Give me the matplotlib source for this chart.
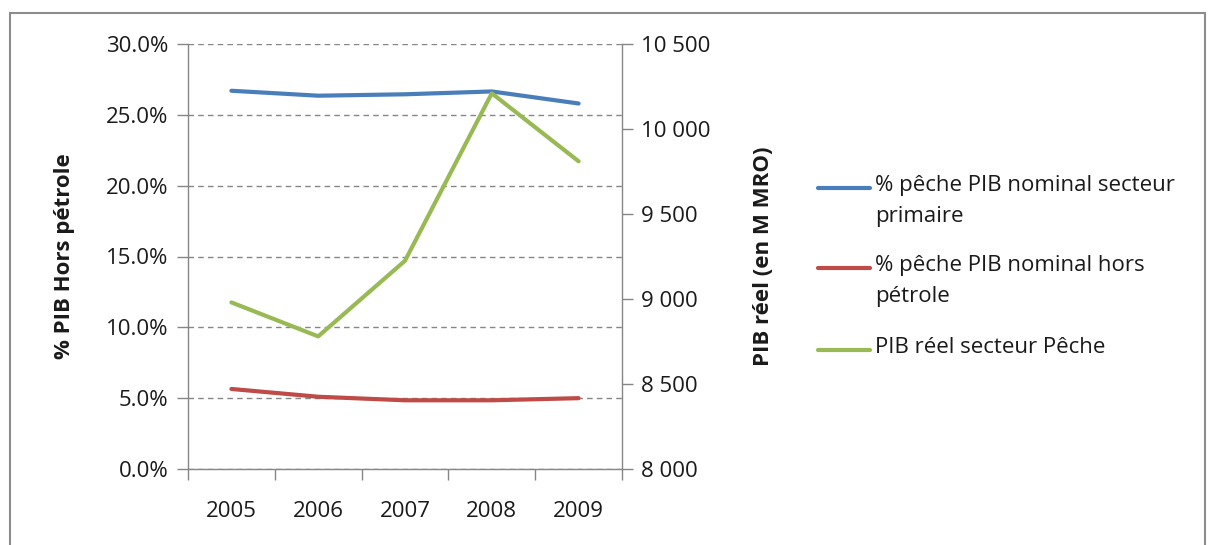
import numpy as np
import matplotlib
matplotlib.use("Agg")
import matplotlib.pyplot as plt
from matplotlib.lines import Line2D
from matplotlib.patches import Rectangle
from matplotlib.ticker import FuncFormatter, FixedLocator

# --- DATA ---
years = ["2005", "2006", "2007", "2008", "2009"]
pct_primaire = [26.7, 26.35, 26.45, 26.65, 25.8]       # % pêche PIB nominal secteur primaire
pct_hors_petrole = [5.65, 5.1, 4.85, 4.85, 5.0]        # % pêche PIB nominal hors pétrole
pib_reel_peche = [8980, 8780, 9225, 10210, 9810]       # PIB réel secteur Pêche (M MRO)

labels = ["% pêche PIB nominal secteur\nprimaire",
          "% pêche PIB nominal hors\npétrole",
          "PIB réel secteur Pêche"]

# --- STYLE ---
plt.rcParams['font.family'] = ['Open Sans', 'DejaVu Sans']
c_blue = "#4A7EBB"
c_red = "#BE4B48"
c_green = "#98B954"
c_axis = "#868686"
c_text = "#1a1a1a"
fs = 16

fig = plt.figure(figsize=(12.1, 5.45), dpi=100)
fig.patches.append(Rectangle((10 / 1210, -0.01), 1195 / 1210, 1 - 13 / 545 + 0.01,
                             transform=fig.transFigure, fill=False,
                             edgecolor="#8c8c8c", linewidth=1.5))

ax = fig.add_axes([188 / 1210, 1 - 469 / 545, (622 - 188) / 1210, (469 - 44) / 545])
ax2 = ax.twinx()

x = np.arange(len(years))
ax.plot(x, pct_primaire, color=c_blue, lw=3, solid_capstyle="round", zorder=3)
ax.plot(x, pct_hors_petrole, color=c_red, lw=3, solid_capstyle="round", zorder=3)
ax2.plot(x, pib_reel_peche, color=c_green, lw=3, solid_capstyle="round", zorder=3)

# left axis
ax.set_ylim(0, 30)
ax.set_yticks(np.arange(0, 31, 5))
ax.yaxis.set_major_formatter(FuncFormatter(lambda v, p: f"{v:.1f}%"))
ax.grid(axis="y", color=c_axis, linestyle=(0, (4, 3)), linewidth=1)
ax.set_ylabel("% PIB Hors pétrole", fontsize=fs, fontweight="bold", color=c_text, labelpad=22)

# category axis
ax.set_xlim(-0.5, len(years) - 0.5)
ax.xaxis.set_major_locator(FixedLocator(np.arange(-0.5, len(years), 1)))
ax.xaxis.set_major_formatter(FuncFormatter(lambda v, p: ""))
ax.xaxis.set_minor_locator(FixedLocator(x))
ax.set_xticks(x, years, minor=True)
ax.tick_params(axis="x", which="major", direction="out", length=8, color=c_axis, width=1)
ax.tick_params(axis="x", which="minor", length=0, pad=23, labelsize=fs, labelcolor=c_text)
ax.tick_params(axis="y", direction="out", length=8, color=c_axis, width=1,
               labelsize=fs, labelcolor=c_text, pad=6)

# right axis
ax2.set_ylim(8000, 10500)
ax2.set_yticks(np.arange(8000, 10501, 500))
ax2.yaxis.set_major_formatter(FuncFormatter(lambda v, p: f"{v:,.0f}".replace(",", " ")))
ax2.tick_params(axis="y", direction="out", length=8, color=c_axis, width=1,
                labelsize=fs, labelcolor=c_text, pad=6)
ax2.set_ylabel("PIB réel (en M MRO)", fontsize=fs, fontweight="bold", color=c_text, labelpad=30)

for a in (ax, ax2):
    a.spines["top"].set_visible(False)
    for s in ("left", "right", "bottom"):
        a.spines[s].set_color(c_axis)
        a.spines[s].set_linewidth(1)
    a.set_facecolor("none")
ax.spines["right"].set_visible(False)
ax2.spines["left"].set_visible(False)
ax2.spines["bottom"].set_visible(False)

# legend (drawn by hand so the key sits on the first line of each label)
leg_colors = [c_blue, c_red, c_green]
leg_y = [188, 268, 350]
for col, yy, lab in zip(leg_colors, leg_y, labels):
    yf = 1 - yy / 545
    fig.add_artist(Line2D([818 / 1210, 870 / 1210], [yf, yf], transform=fig.transFigure,
                          color=col, lw=3, solid_capstyle="round"))
    fig.text(875 / 1210, yf + 13 / 545, lab, fontsize=fs, color=c_text, va="top",
             ha="left", linespacing=1.65)

fig.savefig("out.png", dpi=100)
